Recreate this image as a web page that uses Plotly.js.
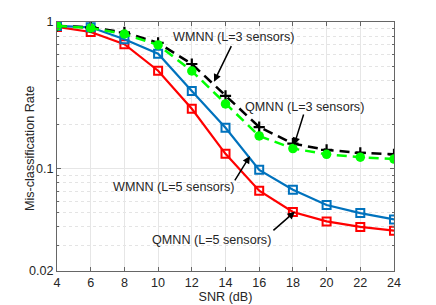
<!DOCTYPE html>
<html>
<head>
<meta charset="utf-8">
<script src="https://cdn.plot.ly/plotly-3.0.1.min.js"></script>
<style>html,body{margin:0;padding:0;background:#fff;}#chart{width:436px;height:305px;}</style>
</head>
<body>
<div id="chart"></div>
<script>
const snr = [4, 6, 8, 10, 12, 14, 16, 18, 20, 22, 24];
const qmnnL5 = [0.925, 0.855, 0.705, 0.465, 0.256, 0.126, 0.0707, 0.0505, 0.0436, 0.040, 0.0377];
const wmnnL5 = [0.94, 0.92, 0.762, 0.608, 0.338, 0.19, 0.098, 0.0716, 0.0564, 0.0497, 0.045];
const wmnnL3 = [0.94, 0.92, 0.85, 0.72, 0.517, 0.313, 0.192, 0.148, 0.134, 0.128, 0.125];
const qmnnL3 = [0.94, 0.91, 0.828, 0.697, 0.463, 0.276, 0.167, 0.137, 0.125, 0.1196, 0.116];
const yTicks = [0.02, 0.1, 1];
const yTickText = ['0.02', '0.1', '1'];
const yMinor = [0.03,0.04,0.05,0.06,0.07,0.08,0.09,0.2,0.3,0.4,0.5,0.6,0.7,0.8,0.9];
const xTicks = [4, 6, 8, 10, 12, 14, 16, 18, 20, 22, 24];

const font = {family: 'Liberation Sans, Arial, sans-serif', size: 12.6, color: '#262626'};

const traces = [
  {x: snr, y: qmnnL5, name: 'QMNN (L=5 sensors)', mode: 'lines+markers',
   line: {color: '#FF0000', width: 2.2},
   marker: {symbol: 'square-open', size: 8, color: '#FF0000', line: {width: 2}}},
  {x: snr, y: wmnnL5, name: 'WMNN (L=5 sensors)', mode: 'lines+markers',
   line: {color: '#0072BD', width: 2.2},
   marker: {symbol: 'square-open', size: 8, color: '#0072BD', line: {width: 2}}},
  {x: snr, y: wmnnL3, name: 'WMNN (L=3 sensors)', mode: 'lines+markers',
   line: {color: '#000000', width: 2.5, dash: '10px,6px'},
   marker: {symbol: 'cross-thin-open', size: 8, color: '#000000', line: {width: 2.2, color: '#000000'}}},
  {x: snr, y: qmnnL3, name: 'QMNN (L=3 sensors)', mode: 'lines+markers',
   line: {color: '#00FF00', width: 2.5, dash: '10px,6px'},
   marker: {symbol: 'circle', size: 9.5, color: '#00FF00'}}
];

const arrowStyle = {showarrow: true, arrowhead: 2, arrowsize: 1, arrowwidth: 1.5, arrowcolor: '#000', text: '', axref: 'pixel', ayref: 'pixel', xref: 'x', yref: 'y'};
const txt = (t, px, py) => ({text: t, xref: 'paper', yref: 'paper', x: (px-57)/337, y: (271-py)/249, showarrow: false, font: font, xanchor: 'center', yanchor: 'middle'});
const annotations = [
  txt('WMNN (L=3 sensors)', 233, 37),
  txt('QMNN (L=3 sensors)', 304.5, 107),
  txt('WMNN (L=5 sensors)', 173.5, 187),
  txt('QMNN (L=5 sensors)', 211.5, 240),
  Object.assign(txt('Mis-classification Rate', 30, 149), {textangle: -90}),
  Object.assign({}, arrowStyle, {x: 13.32, y: -0.407, ax: 18, ay: -37}),
  Object.assign({}, arrowStyle, {x: 18.07, y: -0.839, ax: 10, ay: -32}),
  Object.assign({}, arrowStyle, {x: 15.45, y: -0.914, ax: -16, ay: 26}),
  Object.assign({}, arrowStyle, {x: 18.12, y: -1.294, ax: -23, ay: 20})
];

const layout = {
  width: 436, height: 305,
  margin: {l: 57, r: 42, t: 22, b: 34, pad: 0},
  paper_bgcolor: '#fff', plot_bgcolor: '#fff',
  showlegend: false,
  font: font,
  xaxis: {
    range: [4, 24], tickvals: xTicks, ticktext: xTicks.map(String),
    ticks: 'inside', ticklen: 4, tickcolor: '#666', showline: true, linecolor: '#666', linewidth: 1, mirror: 'ticks',
    showgrid: true, gridcolor: '#E6E6E6', gridwidth: 1, zeroline: false,
    tickfont: font,
    title: {text: 'SNR (dB)', font: font, standoff: 3}
  },
  yaxis: {
    type: 'log', range: [Math.log10(0.02), 0],
    tickvals: yTicks, ticktext: yTickText,
    ticks: 'inside', ticklen: 4, tickcolor: '#666', showline: true, linecolor: '#666', linewidth: 1, mirror: 'ticks',
    showgrid: true, gridcolor: '#E6E6E6', zeroline: false,
    tickfont: font,
    minor: {tickmode: 'array', tickvals: yMinor, ticks: 'inside', ticklen: 2, tickcolor: '#666', showgrid: true, gridcolor: '#E4E4E4', griddash: 'dot'}
  },
  annotations: annotations
};

Plotly.newPlot('chart', traces, layout, {displayModeBar: false, staticPlot: true});
</script>
</body>
</html>
